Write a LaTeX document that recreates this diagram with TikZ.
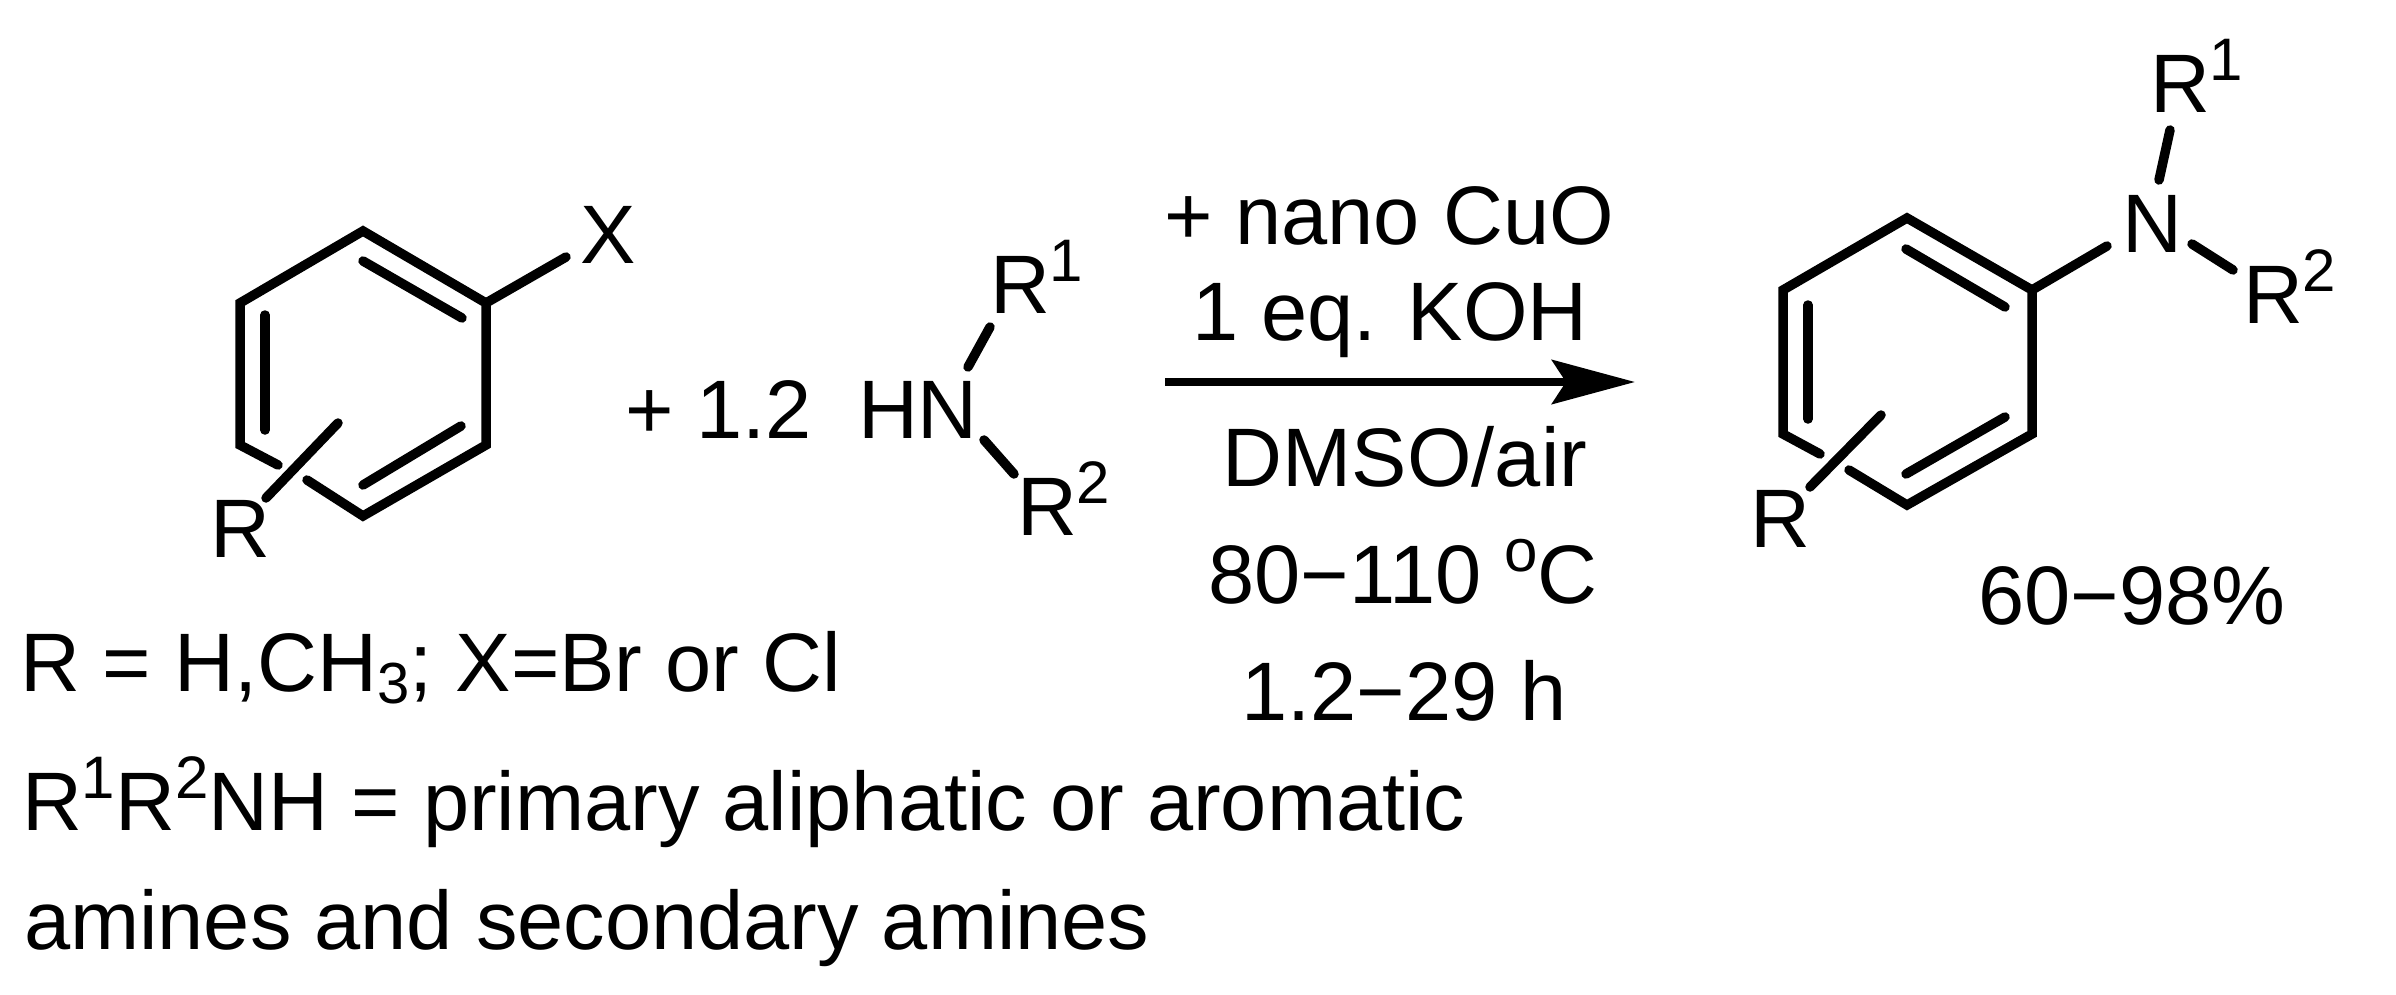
\documentclass[tikz,border=0pt]{standalone}
\usepackage{fontspec}
\setmainfont{Liberation Sans}
\usetikzlibrary{arrows.meta}
\newcommand{\supr}[1]{\raisebox{32pt}{\fontsize{60}{60}\selectfont #1}}
\newcommand{\subr}[1]{\raisebox{-12pt}{\fontsize{58}{58}\selectfont #1}}
\tikzset{
  x=1pt,y=-1pt,
  bond/.style={line width=9.5pt,line cap=round,line join=miter},
  lab/.style={inner sep=0pt,outer sep=0pt,font=\fontsize{83}{83}\selectfont,anchor=base west},
  labc/.style={lab,anchor=base},
  supt/.style={inner sep=0pt,outer sep=0pt,font=\fontsize{60}{60}\selectfont,anchor=base west},
}
\begin{document}
\begin{tikzpicture}
\useasboundingbox (0,0) rectangle (2396,995);
% left ring
\coordinate (a1) at (363,231);
\coordinate (a2) at (486,303);
\coordinate (a3) at (486,445);
\coordinate (a4) at (363,516);
\coordinate (a5) at (240,445);
\coordinate (a6) at (240,303);
\coordinate (a5b) at (278,465);
\coordinate (a4b) at (307,480);
\coordinate (d1a) at (363,261);
\coordinate (d1b) at (462,318);
\coordinate (d2a) at (461,426);
\coordinate (d2b) at (363,485);
\coordinate (d3a) at (265,315);
\coordinate (d3b) at (265,430);
\coordinate (rsa) at (266,498);
\coordinate (rsb) at (338,423);
\node[lab] (X) at (580,263) {X};
\node[lab] (Ra) at (210,557) {R};
\draw[bond] (a5b) -- (a5) -- (a6) -- (a1) -- (a2) -- (a3) -- (a4) -- (a4b);
\draw[bond] (d1a) -- (d1b);
\draw[bond] (d2a) -- (d2b);
\draw[bond] (d3a) -- (d3b);
\draw[bond] (rsa) -- (rsb);
\coordinate (xe) at (566,257);
\draw[bond] (a2) -- (xe);
% amine
\node[lab] (plus) at (625,438) {+ 1.2};
\node[lab] (HN) at (858,438) {HN};
\node[lab] (Rb) at (990,313) {R};
\node[supt] (sb) at (Rb.base east) {\supr{1}};
\node[lab] (Rc) at (1017,535) {R};
\node[supt] (sc) at (Rc.base east) {\supr{2}};
\coordinate (hn1) at (968,367);
\coordinate (rb1) at (990,327);
\coordinate (hn2) at (984,440);
\coordinate (rc1) at (1014,474);
\draw[bond] (hn1) -- (rb1);
\draw[bond] (hn2) -- (rc1);
% arrow
\coordinate (ar1) at (1165,382);
\coordinate (ar2) at (1635,382);
\draw[line width=8.5pt,-{Stealth[length=83pt,width=44pt,inset=14pt]}] (ar1) -- (ar2);
% conditions
\node[labc] (c1) at (1389,244) {+ nano CuO};
\node[labc] (c2) at (1390,340) {1 eq. KOH};
\node[labc] (c3) at (1405,486) {DMSO/air};
\node[labc] (c4) at (1403,603) {80−110 \supr{o}C};
\node[labc] (c5) at (1404,720) {1.2−29 h};
% notes
\node[lab] (n1) at (20,691) {R = H,CH\subr{3}; X=Br or Cl};
\node[lab] (n2) at (22,830) {R\supr{1}R\supr{2}NH = primary aliphatic or aromatic};
\node[lab] (n3) at (24,949) {amines and secondary amines};
% product ring
\coordinate (b1) at (1907,218);
\coordinate (b2) at (2032,290);
\coordinate (b3) at (2032,434);
\coordinate (b4) at (1907,505);
\coordinate (b5) at (1783,434);
\coordinate (b6) at (1783,290);
\coordinate (b5b) at (1820,454);
\coordinate (b4b) at (1849,470);
\coordinate (e1a) at (1906,249);
\coordinate (e1b) at (2005,307);
\coordinate (e2a) at (2005,417);
\coordinate (e2b) at (1906,474);
\coordinate (e3a) at (1808,305);
\coordinate (e3b) at (1808,419);
\coordinate (psa) at (1810,487);
\coordinate (psb) at (1881,415);
\node[lab] (N) at (2122,252) {N};
\node[lab] (Rd) at (2150,113) {R};
\node[supt] (sd) at (Rd.base east) {\supr{1}};
\node[lab] (Re) at (2243,323) {R};
\node[supt] (se) at (Re.base east) {\supr{2}};
\node[lab] (Rf) at (1750,547) {R};
\node[labc] (yield) at (2132,624) {60−98\%};
\coordinate (ne) at (2107,246);
\coordinate (n1e) at (2159,180);
\coordinate (rd1) at (2170,130);
\coordinate (n2e) at (2192,244);
\coordinate (re1) at (2233,270);
\draw[bond] (b5b) -- (b5) -- (b6) -- (b1) -- (b2) -- (b3) -- (b4) -- (b4b);
\draw[bond] (e1a) -- (e1b);
\draw[bond] (e2a) -- (e2b);
\draw[bond] (e3a) -- (e3b);
\draw[bond] (psa) -- (psb);
\draw[bond] (b2) -- (ne);
\draw[bond] (n1e) -- (rd1);
\draw[bond] (n2e) -- (re1);
\end{tikzpicture}
\end{document}
